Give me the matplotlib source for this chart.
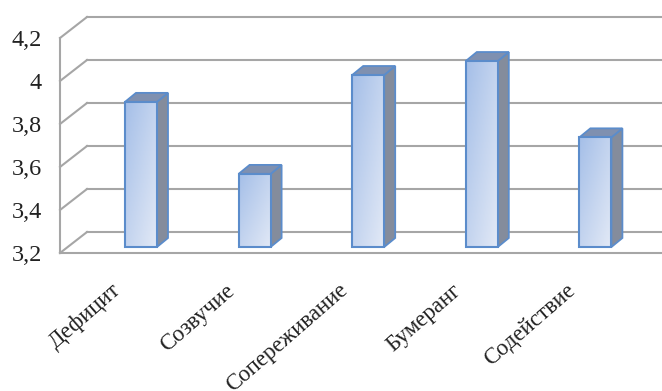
import numpy as np
import matplotlib
matplotlib.use("Agg")
import matplotlib.pyplot as plt
from matplotlib.patches import Polygon
from matplotlib.colors import LinearSegmentedColormap
from matplotlib.transforms import Affine2D

categories = ["Дефицит", "Созвучие", "Сопереживание", "Бумеранг", "Содействие"]
values = [3.875, 3.54, 4.00, 4.065, 3.71]
y_ticks = [3.2, 3.4, 3.6, 3.8, 4.0, 4.2]
y_labels = ["3,2", "3,4", "3,6", "3,8", "4", "4,2"]

W, H = 662, 391
plt.rcParams["font.family"] = ["Liberation Serif", "DejaVu Sans"]
fig = plt.figure(figsize=(W / 100, H / 100), dpi=100)
ax = fig.add_axes([60 / W, (H - 253) / H, (W - 60) / W, 215 / H])
x0 = (60 - 141) / 113.6
x1 = (662 - 141) / 113.6
ax.set_xlim(x0, x1)
ax.set_ylim(3.2, 4.2)
ax.patch.set_visible(False)

GRID = "#a6a6a6"
TEXT = "#222222"
for v in y_ticks:
    xa, ya = ax.transData.transform((x0, v))
    ax.plot([xa, xa + 27], [ya, ya + 21], color=GRID, lw=1.5, transform=None, zorder=1, clip_on=False)
    ax.plot([xa + 27, W], [ya + 21, ya + 21], color=GRID, lw=1.5, transform=None, zorder=1, clip_on=False)

for s in ("top", "right"):
    ax.spines[s].set_visible(False)
for s in ("left", "bottom"):
    ax.spines[s].set_color(GRID)
    ax.spines[s].set_linewidth(1.5)

ax.set_yticks(y_ticks, y_labels, fontsize=17.5, color=TEXT)
ax.tick_params(axis="y", length=0, pad=13)
ax.set_xticks(range(len(categories)), categories, fontsize=16.5, color=TEXT,
              rotation=41, ha="right", rotation_mode="anchor")
ax.tick_params(axis="x", length=0, pad=0)
for lab in ax.get_xticklabels():
    lab.set_transform(lab.get_transform() + Affine2D().translate(-30, -27))

cmap = LinearSegmentedColormap.from_list("b", ["#a5bfe8", "#e2e9f6"])
yy, xx = np.mgrid[0:1:64j, 0:1:32j]
grad = (xx + yy) / 2
hw = 16 / 113.6
plane = ax.transData + Affine2D().translate(0, 6)
EDGE = "#5b8ccb"
dx, dy = 11, 9
for i, v in enumerate(values):
    left, bottom = plane.transform((i - hw, 3.2))
    right, top_y = plane.transform((i + hw, v))
    ax.add_patch(Polygon([(right, bottom), (right + dx, bottom + dy), (right + dx, top_y + dy), (right, top_y)],
                         closed=True, fc="#848c9c", ec=EDGE, lw=1.3, transform=None, zorder=3, clip_on=False))
    ax.add_patch(Polygon([(left, top_y), (left + dx, top_y + dy), (right + dx, top_y + dy), (right, top_y)],
                         closed=True, fc="#7f90b0", ec=EDGE, lw=1.3, transform=None, zorder=3, clip_on=False))
    ax.imshow(grad, cmap=cmap, vmin=0, vmax=1, aspect="auto", origin="upper",
              extent=(i - hw, i + hw, 3.2, v), transform=plane, zorder=4, clip_on=False)
    ax.bar(i, v - 3.2, bottom=3.2, width=2 * hw, fc="none", ec=EDGE, lw=1.5,
           transform=plane, zorder=5, clip_on=False)

ax.set_xlim(x0, x1)
ax.set_ylim(3.2, 4.2)
fig.savefig("out.png", dpi=100)
